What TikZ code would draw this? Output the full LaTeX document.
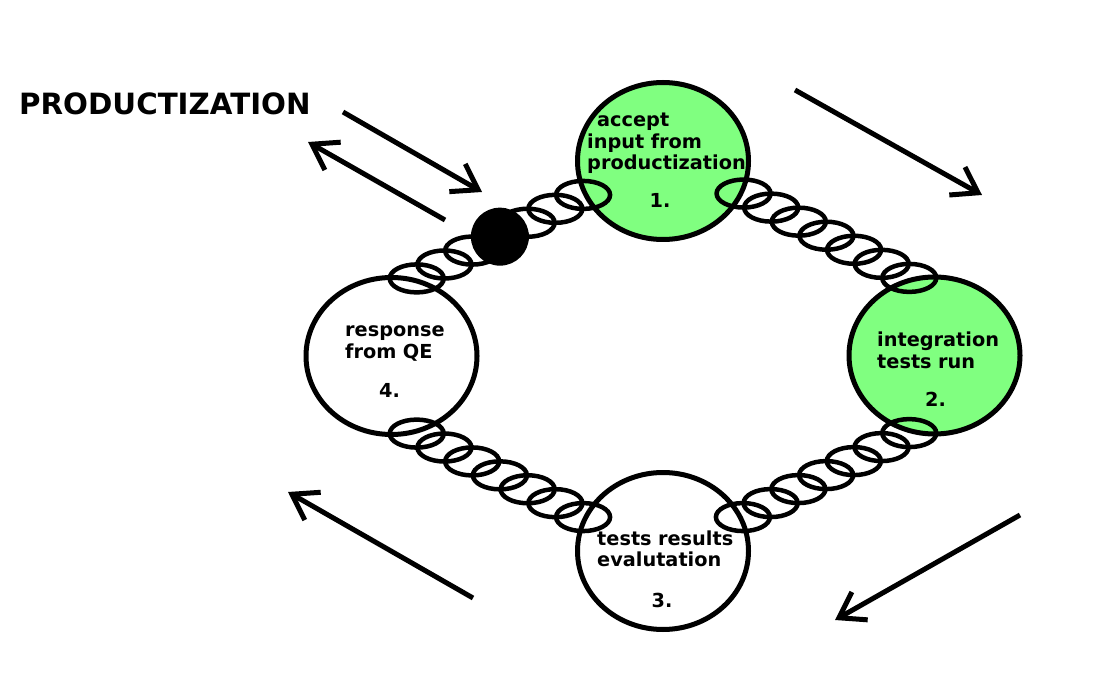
\documentclass[tikz,border=0pt]{standalone}
\usepackage{fontspec}
\setmainfont{DejaVu Sans}
\usepackage{tikz}
\usetikzlibrary{shapes.geometric,calc,arrows.meta}
\definecolor{verde}{RGB}{128,255,128}
\newcommand{\letraetapa}{\bfseries\fontsize{19.3}{21.5}\selectfont}
\tikzstyle{etapa} = [draw=black, line width=5pt, ellipse, minimum width=171pt, minimum height=157pt, inner sep=0pt]
\tikzstyle{hecha} = [etapa, fill=verde]
\tikzstyle{textoetapa} = [anchor=base west, inner sep=0pt, text width=170pt, align=left, font=\letraetapa]
\tikzstyle{numero} = [anchor=base, inner sep=0pt, font=\letraetapa]
\tikzstyle{anillo} = [draw=black, line width=4.5pt]
\tikzstyle{flecha} = [draw=black, line width=5pt, -{Straight Barb[length=24pt,width=32pt]}]

\begin{document}
\begin{tikzpicture}[x=1pt,y=-1pt]
	\fill[white] (0,0) rectangle (1100,700);
	\useasboundingbox (0,0) rectangle (1100,700);

	\node[hecha] (accept) at (663,161) {};
	\node[hecha] (integ) at (934.5,355.5) {};
	\node[etapa] (results) at (663,551) {};
	\node[etapa] (response) at (391.5,356) {};

	% cadenas entre etapas
	\foreach \i in {0,...,6}{
		\draw[anillo] ($(accept.-22)!{\i/6}!(integ.108)$) ellipse [x radius=27, y radius=14];
		\draw[anillo] ($(integ.-108)!{\i/6}!(results.23)$) ellipse [x radius=27, y radius=14];
		\draw[anillo] ($(results.157)!{\i/6}!(response.-72)$) ellipse [x radius=27, y radius=14];
		\draw[anillo] ($(response.72)!{\i/6}!(accept.-157)$) ellipse [x radius=27, y radius=14];
	}
	\node[fill=black, circle, minimum size=58pt, inner sep=0pt] (dot) at ($(response.72)!0.5!(accept.-157)$) {};

	\node[textoetapa] (accept-text) at ($(accept)+(-76,-34)$) {\hspace*{10pt}accept\\input from\\productization};
	\node[numero] (accept-num) at ($(accept)+(-3,47)$) {1.};
	\node[textoetapa] (integ-text) at ($(integ)+(-57.5,-8.5)$) {integration\\tests run};
	\node[numero] (integ-num) at ($(integ)+(1,51)$) {2.};
	\node[textoetapa] (results-text) at ($(results)+(-66,-6)$) {tests results\\evalutation};
	\node[numero] (results-num) at ($(results)+(-1,56)$) {3.};
	\node[textoetapa] (response-text) at ($(response)+(-46.5,-19)$) {response\\from QE};
	\node[numero] (response-num) at ($(response)+(-2,41)$) {4.};

	\node[anchor=base west, inner sep=0pt, font=\bfseries\fontsize{29.3}{35}\selectfont] (prod) at (19,115) {PRODUCTIZATION};

	% flechas
	\coordinate (f1a) at (343,112);
	\coordinate (f1b) at (482,192);
	\coordinate (f2a) at (445,220);
	\coordinate (f2b) at (308,142);
	\coordinate (f3a) at (795,90);
	\coordinate (f3b) at (982,195);
	\coordinate (f4a) at (1020,515);
	\coordinate (f4b) at (835,620);
	\coordinate (f5a) at (473,598);
	\coordinate (f5b) at (288,492);
	\draw[flecha] (f1a) -- (f1b);
	\draw[flecha] (f2a) -- (f2b);
	\draw[flecha] (f3a) -- (f3b);
	\draw[flecha] (f4a) -- (f4b);
	\draw[flecha] (f5a) -- (f5b);
\end{tikzpicture}
\end{document}
